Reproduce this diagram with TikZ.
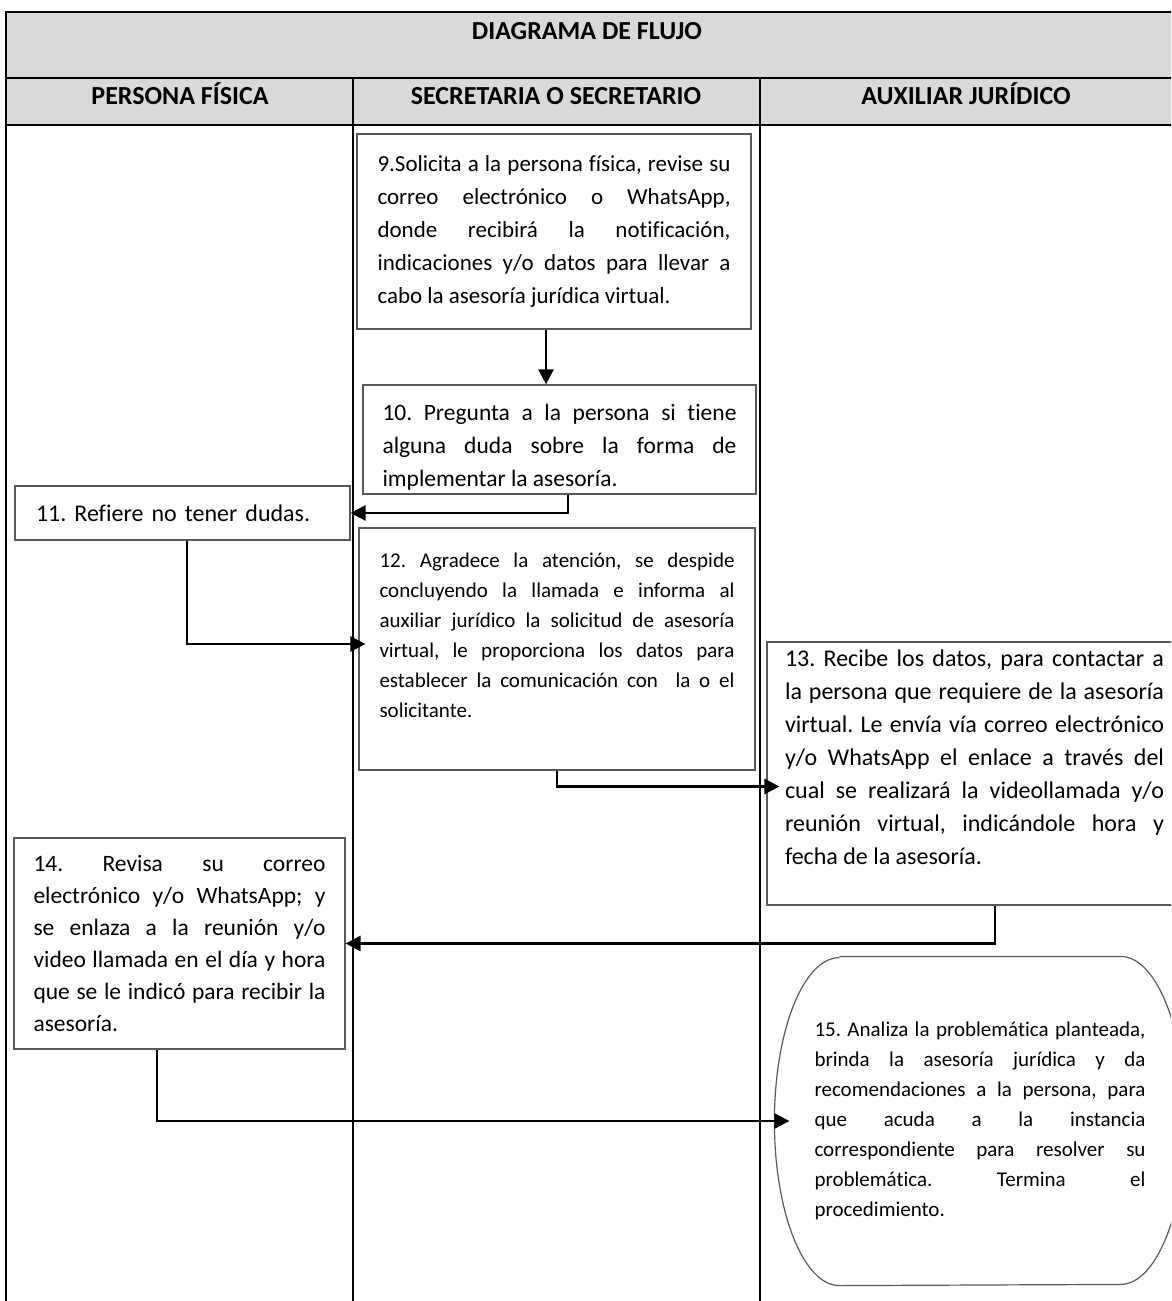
\documentclass[tikz,border=0pt]{standalone}
\usepackage{fontspec}
\setmainfont{Carlito}[Ligatures=NoCommon]
\usetikzlibrary{arrows.meta,positioning}
\definecolor{bandgray}{HTML}{D9D9D9}
\newcommand{\txt}[2]{\fontsize{#1}{#2}\selectfont\frenchspacing}

\begin{document}
\begin{tikzpicture}[x=1pt,y=1pt,
  lane/.style={line width=2.2pt},
  stepbox/.style={draw=black!65,line width=1.2pt,fill=white,inner sep=0pt,align=justify},
  flow/.style={line width=2.6pt,-{Triangle[length=15pt,width=15pt]}},
  hdr/.style={font=\txt{26}{30}\bfseries,inner sep=0pt,anchor=base}]
\useasboundingbox (0,0) rectangle (1171,-1301);
\clip (0,0) rectangle (1171,-1301);
\fill[bandgray] (6,-12) rectangle (1180,-125);
\draw[lane] (6,-1301) -- (6,-12) -- (1180,-12);
\draw[lane] (6,-78) -- (1180,-78) (6,-125) -- (1180,-125);
\draw[lane] (353,-78) -- (353,-1301) (760,-78) -- (760,-1301);
\node[hdr] (title) at (587,-39) {DIAGRAMA DE FLUJO};
\node[hdr] (lane1) at (180,-104) {PERSONA FÍSICA};
\node[hdr] (lane2) at (556,-104) {SECRETARIA O SECRETARIO};
\node[hdr] (lane3) at (966,-104) {AUXILIAR JURÍDICO};

\node[stepbox,minimum width=394,minimum height=195,text width=353,font=\txt{23}{33}] (n9) at (554,-231.5)
  {9.Solicita a la persona física, revise su\linebreak correo electrónico o WhatsApp,\linebreak donde recibirá la notificación,\linebreak indicaciones y/o datos para llevar a\linebreak cabo la asesoría jurídica virtual.};
\node[stepbox,minimum width=393,minimum height=109,text width=354,font=\txt{23.5}{33}] (n10) at (559.5,-439.5)
  {\rule{0pt}{31pt}10. Pregunta a la persona si tiene\linebreak alguna duda sobre la forma de\linebreak implementar la asesoría.};
\node[stepbox,align=left,minimum width=335,minimum height=54,text width=293,font=\txt{24}{30}] (n11) at (182.5,-513)
  {11. Refiere no tener dudas.};
\node[stepbox,minimum width=396,minimum height=242,text width=355,font=\txt{21}{30}] (n12) at (557,-649)
  {12. Agradece la atención, se despide\linebreak concluyendo la llamada e informa al\linebreak auxiliar jurídico la solicitud de asesoría\linebreak virtual, le proporciona los datos para\linebreak establecer la comunicación con\ \ la o el\linebreak solicitante.\rule[-27pt]{0pt}{0pt}};
\node[stepbox,minimum width=415,minimum height=263,text width=379,font=\txt{24}{33}] (n13) at (974.5,-773.5)
  {13. Recibe los datos, para contactar a\linebreak la persona que requiere de la asesoría\linebreak virtual. Le envía vía correo electrónico\linebreak y/o WhatsApp el enlace a través del\linebreak cual se realizará la videollamada y/o\linebreak reunión virtual, indicándole hora y\linebreak fecha de la asesoría.\rule[-32pt]{0pt}{0pt}};
\node[stepbox,minimum width=331,minimum height=211,text width=292,font=\txt{23.5}{32}] (n14) at (179.5,-943.5)
  {14. Revisa su correo\linebreak electrónico y/o WhatsApp; y\linebreak se enlaza a la reunión y/o\linebreak video llamada en el día y hora\linebreak que se le indicó para recibir la\linebreak asesoría.};
\node[stepbox,draw=none,fill=none,minimum width=410,minimum height=328,text width=331,font=\txt{21}{30}] (n15) at (980,-1121)
  {15. Analiza la problemática planteada,\linebreak brinda la asesoría jurídica y da\linebreak recomendaciones a la persona, para\linebreak que acuda a la instancia\linebreak correspondiente para resolver su\linebreak problemática. Termina el\linebreak procedimiento.};
\draw[draw=black!65,line width=1.2pt] ([xshift=65pt]n15.north west) -- ([xshift=-65pt]n15.north east)
  arc[start angle=90,end angle=-90,x radius=65pt,y radius=164pt] -- ([xshift=65pt]n15.south west)
  arc[start angle=270,end angle=90,x radius=65pt,y radius=164pt];

\draw[flow] ([xshift=-8pt]n9.south) -- ([xshift=-8pt]n9.south |- n10.north);
\draw[flow] ([xshift=8.5pt]n10.south) |- (n11.east);
\draw[flow,shorten >=-7pt] ([xshift=4.5pt]n11.south) |- ([yshift=5pt]n12.west);
\draw[flow,shorten >=-13pt] (n12.south) |- ([yshift=-13pt]n13.west);
\draw[flow] ([xshift=20.5pt]n13.south) |- (n14.east);
\draw[flow,shorten >=-15pt] ([xshift=-22.5pt]n14.south) |- (n15.west);
\end{tikzpicture}
\end{document}
